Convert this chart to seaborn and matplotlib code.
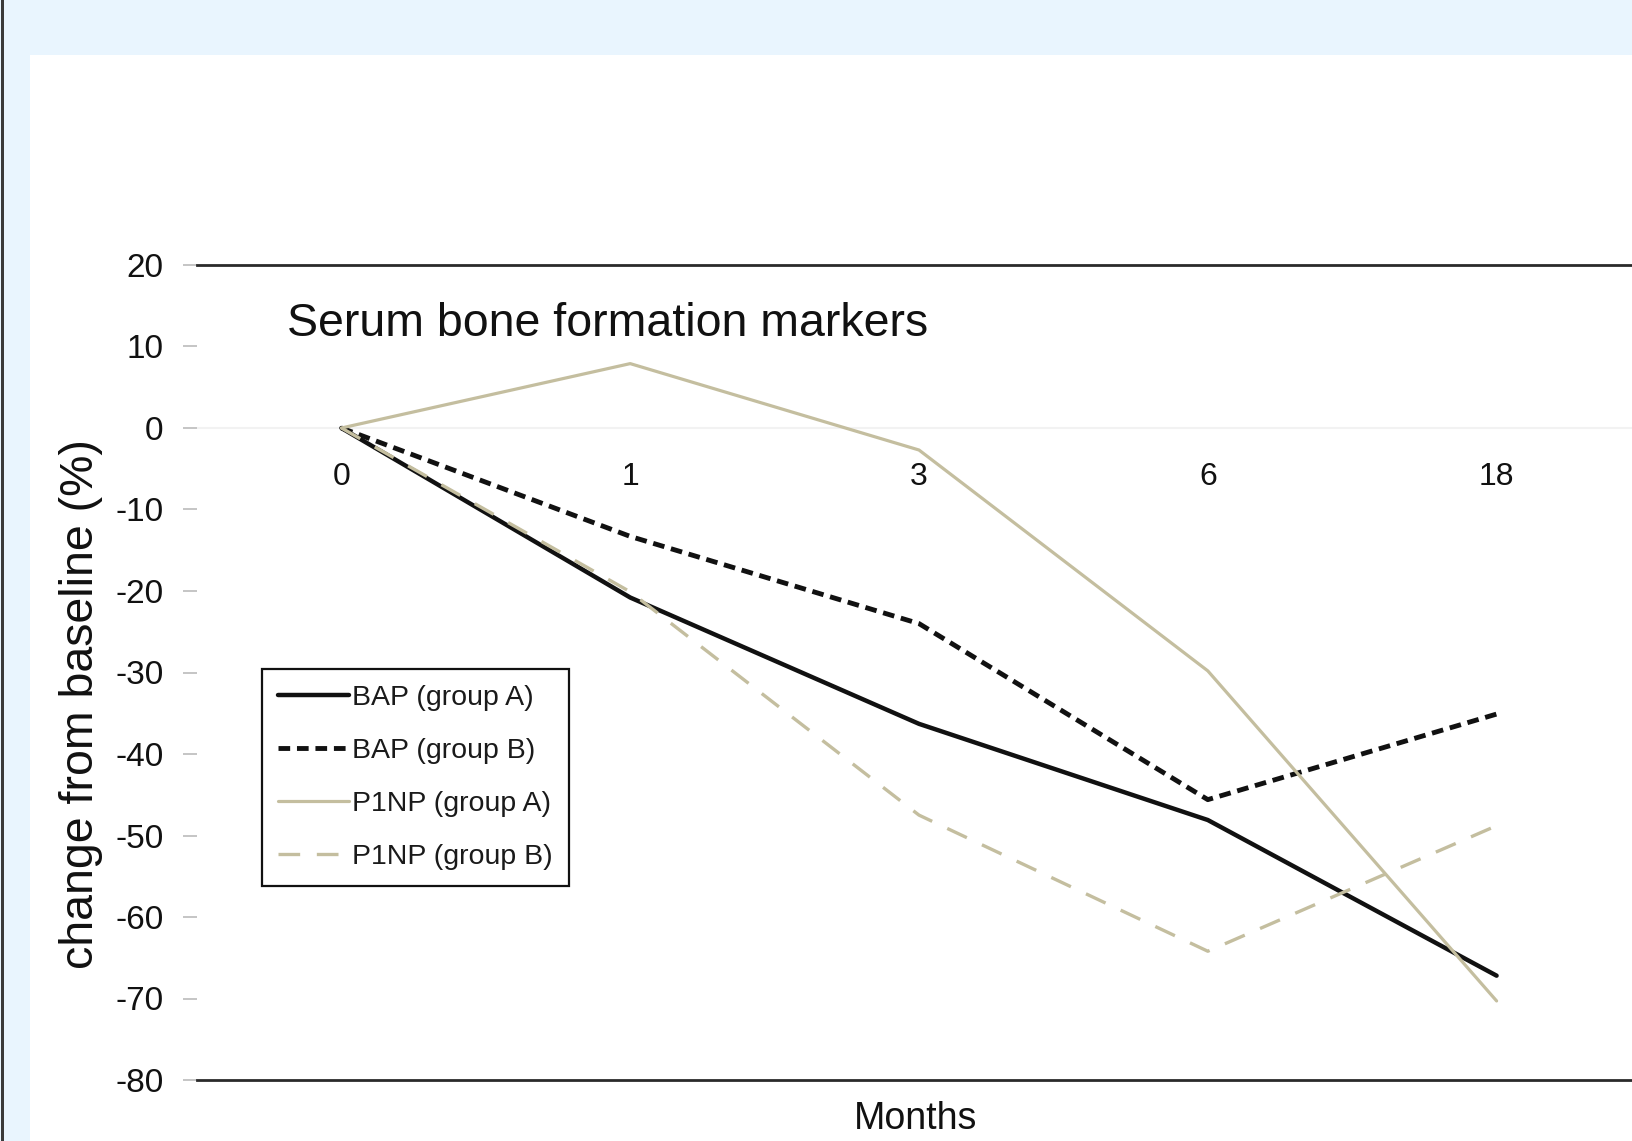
import matplotlib
matplotlib.use("Agg")
import matplotlib.pyplot as plt
from matplotlib.patches import Rectangle
import pandas as pd
import seaborn as sns

# Time points (months) and percent change from baseline per marker / group
months = ["0", "1", "3", "6", "18"]
bap_group_a = [0, -20.8, -36.3, -48.1, -67.2]
bap_group_b = [0, -13.3, -24.0, -45.6, -35.1]
p1np_group_a = [0, 7.9, -2.7, -29.8, -70.3]
p1np_group_b = [0, -20.1, -47.5, -64.2, -48.8]

series_names = ["BAP (group A)", "BAP (group B)", "P1NP (group A)", "P1NP (group B)"]
series_values = [bap_group_a, bap_group_b, p1np_group_a, p1np_group_b]
y_ticks = [20, 10, 0, -10, -20, -30, -40, -50, -60, -70, -80]

rows = []
for name, vals in zip(series_names, series_values):
    for i, (m, v) in enumerate(zip(months, vals)):
        rows.append({"pos": i, "month": m, "change": v, "series": name})
df = pd.DataFrame(rows)

sns.set_theme(style="white")
plt.rcParams["font.family"] = ["Liberation Sans", "DejaVu Sans"]

W, H = 1632, 1141
fig = plt.figure(figsize=(W / 100, H / 100), dpi=100)
fig.patch.set_facecolor("#E9F5FE")

# white panel and dark left border of the frame (behind the axes)
fig.patches.append(Rectangle((30 / W, 0), 1 - 30 / W, 1 - 55 / H,
                             transform=fig.transFigure, facecolor="white",
                             edgecolor="none", zorder=-2))
fig.patches.append(Rectangle((0.5 / W, 0), 3.5 / W, 1,
                             transform=fig.transFigure, facecolor="#3a3a3a",
                             edgecolor="none", zorder=-2))

ax = fig.add_axes([197 / W, 61 / H, 1444 / W, 815 / H])
ax.set_facecolor("none")

tan = "#C4BE9F"
palette = {"BAP (group A)": "#111111", "BAP (group B)": "#111111",
           "P1NP (group A)": tan, "P1NP (group B)": tan}
dashes = {"BAP (group A)": "", "BAP (group B)": (2.4, 1.4),
          "P1NP (group A)": "", "P1NP (group B)": (6.5, 5.0)}
widths = {"BAP (group A)": 3.2, "BAP (group B)": 3.5,
          "P1NP (group A)": 2.3, "P1NP (group B)": 2.4}

sns.lineplot(data=df, x="pos", y="change", hue="series", style="series",
             palette=palette, dashes=dashes, hue_order=series_names,
             style_order=series_names, ax=ax, legend=True)
for line, name in zip(ax.lines, series_names):
    line.set_linewidth(widths[name])
    line.set_solid_joinstyle("round")
    line.set_dash_joinstyle("round")

ax.set_xlim(-0.5, 4.5)
ax.set_ylim(-80, 20)
ax.axhline(0, color="#F2F2F2", lw=1.5, zorder=0)

ax.set_yticks(y_ticks)
ax.set_yticklabels([str(t) for t in y_ticks], fontsize=24)
ax.tick_params(axis="y", length=10, width=1.2, color="#BBBBBB", pad=14,
               left=True, labelcolor="#111111")
ax.set_xticks([])
ax.set_xlabel("")
ax.set_ylabel("")

for s in ["left", "right"]:
    ax.spines[s].set_visible(False)
for s in ["top", "bottom"]:
    ax.spines[s].set_color("#2a2a2a")
    ax.spines[s].set_linewidth(2.0)

# month labels sit just below the zero line
for i, m in enumerate(months):
    ax.text(i, -6.0, m, ha="center", va="center", fontsize=23, color="#111111")

ax.text(0.062, 0.928, "Serum bone formation markers", transform=ax.transAxes,
        fontsize=33.5, color="#111111", va="center", ha="left")

fig.text(916 / W, 1 - 1119 / H, "Months", ha="center", va="center",
         fontsize=27, color="#111111")
fig.text(81 / W, 1 - 704 / H, "change from baseline (%)", ha="center",
         va="center", rotation=90, fontsize=33.5, color="#111111")

handles, labels = ax.get_legend_handles_labels()
ax.legend(handles, labels, loc="upper left", bbox_to_anchor=(0.045, 0.504),
          borderaxespad=0, frameon=True, fancybox=False, fontsize=20.5,
          handlelength=2.5, handletextpad=0.12, labelspacing=0.95,
          borderpad=0.55, edgecolor="#111111", framealpha=1)
leg = ax.get_legend()
leg.get_frame().set_linewidth(1.6)
for t in leg.get_texts():
    t.set_color("#1a1a1a")
for h, name in zip(leg.get_lines(), series_names):
    h.set_linewidth(widths[name])

fig.savefig("out.png", dpi=100, facecolor=fig.get_facecolor())
